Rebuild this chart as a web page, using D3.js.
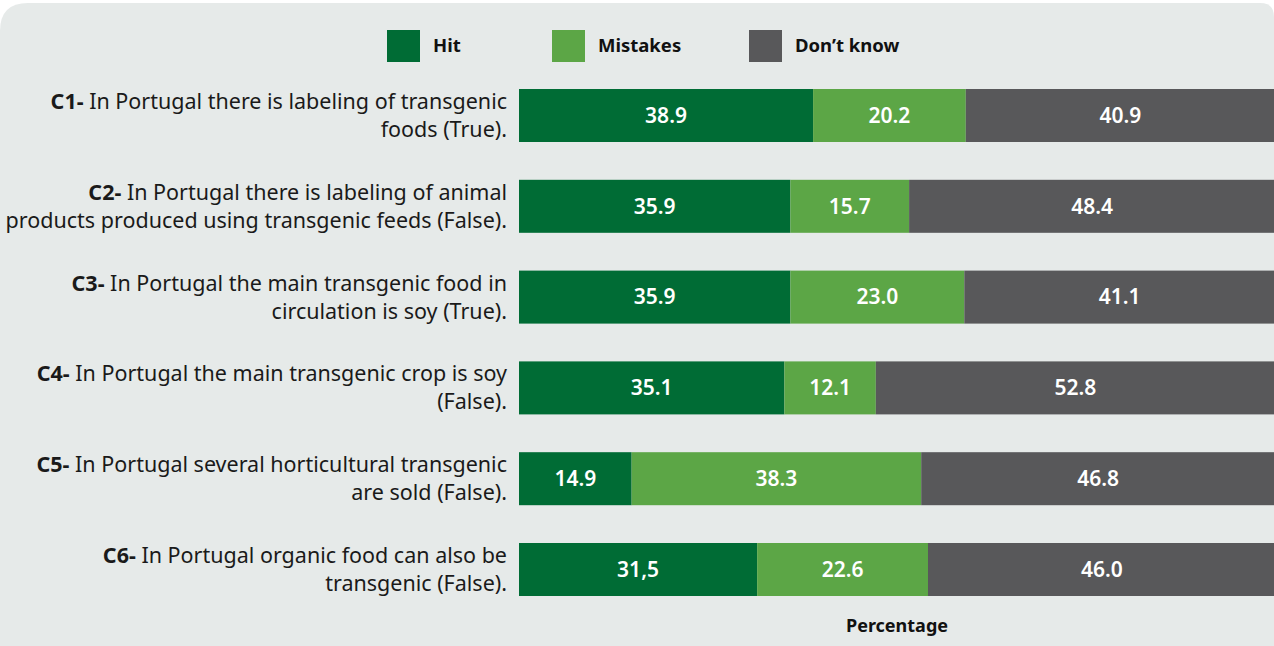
<!DOCTYPE html>
<html>
<head>
<meta charset="utf-8">
<script src="https://cdn.jsdelivr.net/npm/d3@7"></script>
<style>
  html, body { margin: 0; padding: 0; background: #fff; }
  svg { display: block; }
</style>
</head>
<body>
<script>
// questions: bold code + statement, split over two lines as in the source
const codes = ["C1-", "C2-", "C3-", "C4-", "C5-", "C6-"];
const line1 = [
  " In Portugal there is labeling of transgenic",
  " In Portugal there is labeling of animal",
  " In Portugal the main transgenic food in",
  " In Portugal the main transgenic crop is soy",
  " In Portugal several horticultural transgenic",
  " In Portugal organic food can also be"
];
const line2 = [
  "foods (True).",
  "products produced using transgenic feeds (False).",
  "circulation is soy (True).",
  "(False).",
  "are sold (False).",
  "transgenic (False)."
];
const series = ["Hit", "Mistakes", "Don\u2019t know"];
const hit      = [38.9, 35.9, 35.9, 35.1, 14.9, 31.5];
const mistakes = [20.2, 15.7, 23.0, 12.1, 38.3, 22.6];
const dontKnow = [40.9, 48.4, 41.1, 52.8, 46.8, 46.0];
// the source prints C6 hit with a comma
const hitLabels = ["38.9", "35.9", "35.9", "35.1", "14.9", "31,5"];

const colors = ["#006c35", "#5ca646", "#58585a"];
const width = 1274, height = 646;

const svg = d3.select("body").append("svg")
    .attr("width", width)
    .attr("height", height)
    .style("font-family", "'Noto Sans', sans-serif");

// panel with rounded top corners
svg.append("path")
    .attr("fill", "#e6eae9")
    .attr("d", `M0,${3 + 28} Q0,3 28,3 L${width - 14},3 Q${width},3 ${width},${3 + 14} L${width},${height} L0,${height} Z`);

const x = d3.scaleLinear().domain([0, 100]).range([519, 1275]);
const y = d3.scaleBand().domain(codes).range([89, 596]).paddingInner(0.4163).paddingOuter(0);

const rows = codes.map((c, i) => {
  const vals = [hit[i], mistakes[i], dontKnow[i]];
  const labs = [hitLabels[i], mistakes[i].toFixed(1), dontKnow[i].toFixed(1)];
  let acc = 0;
  return vals.map((v, j) => {
    const d = { code: c, key: series[j], x0: acc, x1: acc + v, label: labs[j], j };
    acc += v;
    return d;
  });
});

const seg = svg.append("g").selectAll("g")
  .data(rows.flat())
  .join("g");

seg.append("rect")
    .attr("x", d => x(d.x0))
    .attr("y", d => y(d.code))
    .attr("width", d => x(d.x1) - x(d.x0))
    .attr("height", y.bandwidth())
    .attr("fill", d => colors[d.j]);

seg.append("text")
    .attr("x", d => (x(d.x0) + x(d.x1)) / 2)
    .attr("y", d => y(d.code) + y.bandwidth() / 2)
    .attr("dy", "0.35em")
    .attr("text-anchor", "middle")
    .attr("fill", "#fff")
    .style("font-size", "21px")
    .style("font-weight", 600)
    .text(d => d.label);

// question labels
const lab = svg.append("g")
    .attr("text-anchor", "end")
    .attr("fill", "#1a1a1a")
    .style("font-size", "21.5px");

codes.forEach((c, i) => {
  const cy = y(c) + y.bandwidth() / 2;
  const t1 = lab.append("text").attr("x", 507).attr("y", cy - 14).attr("dy", "0.35em");
  t1.append("tspan").style("font-weight", 700).text(c);
  t1.append("tspan").text(line1[i]);
  lab.append("text").attr("x", 507).attr("y", cy + 14).attr("dy", "0.35em").text(line2[i]);
});

// legend
const legendX = [387, 552, 749];
const leg = svg.append("g").selectAll("g")
  .data(series)
  .join("g")
    .attr("transform", (d, i) => `translate(${legendX[i]},30)`);

leg.append("rect")
    .attr("width", 33)
    .attr("height", 32)
    .attr("fill", (d, i) => colors[i]);

leg.append("text")
    .attr("x", 46)
    .attr("y", 16)
    .attr("dy", "0.35em")
    .attr("fill", "#111")
    .style("font-size", "18.5px")
    .style("font-weight", 700)
    .text(d => d);

svg.append("text")
    .attr("x", (x(0) + x(100)) / 2)
    .attr("y", 626)
    .attr("dy", "0.35em")
    .attr("text-anchor", "middle")
    .attr("fill", "#111")
    .style("font-size", "18px")
    .style("font-weight", 700)
    .text("Percentage");
</script>
</body>
</html>
